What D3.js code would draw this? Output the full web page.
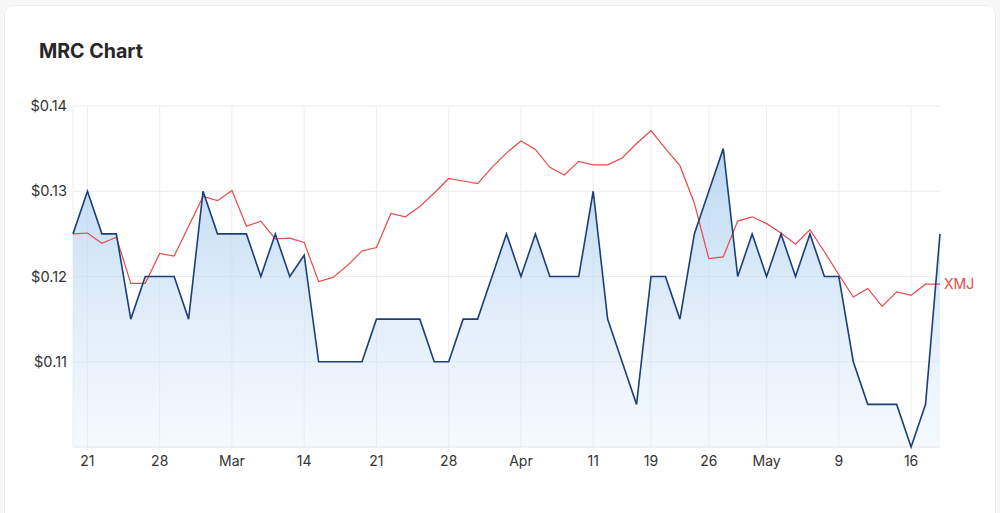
<!DOCTYPE html>
<html>
<head>
<meta charset="utf-8">
<script src="https://cdn.jsdelivr.net/npm/d3@7"></script>
<style>
  html, body { margin: 0; padding: 0; background: #f7f7f7; }
  body { width: 1000px; height: 513px; overflow: hidden; font-family: Inter, "Noto Sans", sans-serif; }
  .card { position: absolute; left: 4px; top: 5px; width: 990px; height: 520px;
          background: #fff; border: 1px solid #ebebeb; border-radius: 9px; }
  svg { position: absolute; left: 0; top: 0; }
</style>
</head>
<body>
<div class="card"></div>
<svg id="chart" width="1000" height="513"></svg>
<script>
// trading days, 18 Feb – 18 May
const DAYS = ["Feb 18",
  "Feb 21","Feb 22","Feb 23","Feb 24","Feb 25",
  "Feb 28","Mar 1","Mar 2","Mar 3","Mar 4",
  "Mar 7","Mar 8","Mar 9","Mar 10","Mar 11",
  "Mar 14","Mar 15","Mar 16","Mar 17","Mar 18",
  "Mar 21","Mar 22","Mar 23","Mar 24","Mar 25",
  "Mar 28","Mar 29","Mar 30","Mar 31","Apr 1",
  "Apr 4","Apr 5","Apr 6","Apr 7","Apr 8",
  "Apr 11","Apr 12","Apr 13","Apr 14",
  "Apr 19","Apr 20","Apr 21","Apr 22",
  "Apr 26","Apr 27","Apr 28","Apr 29",
  "May 2","May 3","May 4","May 5","May 6",
  "May 9","May 10","May 11","May 12","May 13",
  "May 16","May 17","May 18"];

const MRC = [0.125,
  0.13,0.125,0.125,0.115,0.12,
  0.12,0.12,0.115,0.13,0.125,
  0.125,0.125,0.12,0.125,0.12,
  0.1225,0.11,0.11,0.11,0.11,
  0.115,0.115,0.115,0.115,0.11,
  0.11,0.115,0.115,0.12,0.125,
  0.12,0.125,0.12,0.12,0.12,
  0.13,0.115,0.11,0.105,
  0.12,0.12,0.115,0.125,
  0.13,0.135,0.12,0.125,
  0.12,0.125,0.12,0.125,0.12,
  0.12,0.11,0.105,0.105,0.105,
  0.10,0.105,0.125];

const XMJ = [0.1250,
  0.1251,0.1239,0.1246,0.1192,0.1192,
  0.1227,0.1224,0.1259,0.1294,0.1289,
  0.1301,0.1259,0.1265,0.1244,0.1245,
  0.1240,0.1194,0.1199,0.1213,0.1230,
  0.1234,0.1274,0.1270,0.1282,0.1298,
  0.1315,0.1312,0.1309,0.1328,0.1345,
  0.1359,0.1349,0.1328,0.1319,0.1335,
  0.1331,0.1331,0.1339,0.1356,
  0.1371,0.1350,0.1330,0.1286,
  0.1221,0.1223,0.1265,0.1270,
  0.1262,0.1251,0.1238,0.1255,0.1229,
  0.1202,0.1176,0.1186,0.1165,0.1182,
  0.1178,0.1191,0.1191];

const TICK_DAYS = ["Feb 21","Feb 28","Mar 7","Mar 14","Mar 21","Mar 28","Apr 4",
                   "Apr 11","Apr 19","Apr 26","May 2","May 9","May 16"];
const TICK_LABELS = ["21","28","Mar","14","21","28","Apr","11","19","26","May","9","16"];
const Y_TICKS = [0.11, 0.12, 0.13, 0.14];

const svg = d3.select("#chart");
const L = 73, R = 940, T = 106, B = 447;

svg.append("text").attr("x", 39).attr("y", 58)
  .attr("font-size", 19.6).attr("font-weight", 700).attr("fill", "#262626")
  .text("MRC Chart");

const x = d3.scalePoint(DAYS, [L, R]);
const y = d3.scaleLinear([0.10, 0.14], [B, T]);

const defs = svg.append("defs");
const grad = defs.append("linearGradient").attr("id", "fill")
  .attr("gradientUnits", "userSpaceOnUse")
  .attr("x1", 0).attr("x2", 0).attr("y1", T).attr("y2", B);
grad.append("stop").attr("offset", 0).attr("stop-color", "#a5cbee").attr("stop-opacity", 0.9);
grad.append("stop").attr("offset", 1).attr("stop-color", "#dcebf9").attr("stop-opacity", 0.3);

// grid
const grid = svg.append("g");
grid.selectAll("line.h").data(Y_TICKS).join("line")
  .attr("x1", L).attr("x2", R).attr("y1", y).attr("y2", y)
  .attr("stroke", "#ececec").attr("stroke-width", 1);
grid.selectAll("line.v").data(TICK_DAYS).join("line")
  .attr("x1", x).attr("x2", x).attr("y1", T).attr("y2", B)
  .attr("stroke", "#eeeeee").attr("stroke-width", 1);
grid.append("line").attr("x1", L).attr("x2", L).attr("y1", T).attr("y2", B)
  .attr("stroke", "#eeeeee");

// area + lines
svg.append("path").datum(MRC)
  .attr("d", d3.area().x((d, i) => x(DAYS[i])).y0(B).y1((d) => y(d)))
  .attr("fill", "url(#fill)");

svg.append("line").attr("x1", L).attr("x2", R).attr("y1", B).attr("y2", B)
  .attr("stroke", "#e2e2e2").attr("stroke-width", 1);

svg.append("path").datum(XMJ)
  .attr("d", d3.line().x((d, i) => x(DAYS[i])).y((d) => y(d)))
  .attr("fill", "none").attr("stroke", "#e8484a").attr("stroke-width", 1.2);

svg.append("path").datum(MRC)
  .attr("d", d3.line().x((d, i) => x(DAYS[i])).y((d) => y(d)))
  .attr("fill", "none").attr("stroke", "#1c3f78").attr("stroke-width", 1.6)
  .attr("stroke-linejoin", "miter");

svg.append("text")
  .attr("x", x(DAYS[DAYS.length - 1]) + 4).attr("y", y(XMJ[XMJ.length - 1]) + 5)
  .attr("font-size", 14).attr("fill", "#e8484a").text("XMJ");

// axes labels
svg.append("g").selectAll("text").data(Y_TICKS).join("text")
  .attr("x", 67).attr("y", (d) => y(d) + 5).attr("text-anchor", "end")
  .attr("font-size", 14.6).attr("fill", "#333")
  .text((d) => d3.format("$.2f")(d));

svg.append("g").selectAll("text").data(TICK_DAYS).join("text")
  .attr("x", x).attr("y", 466).attr("text-anchor", "middle")
  .attr("font-size", 14).attr("fill", "#333")
  .text((d, i) => TICK_LABELS[i]);
</script>
</body>
</html>
